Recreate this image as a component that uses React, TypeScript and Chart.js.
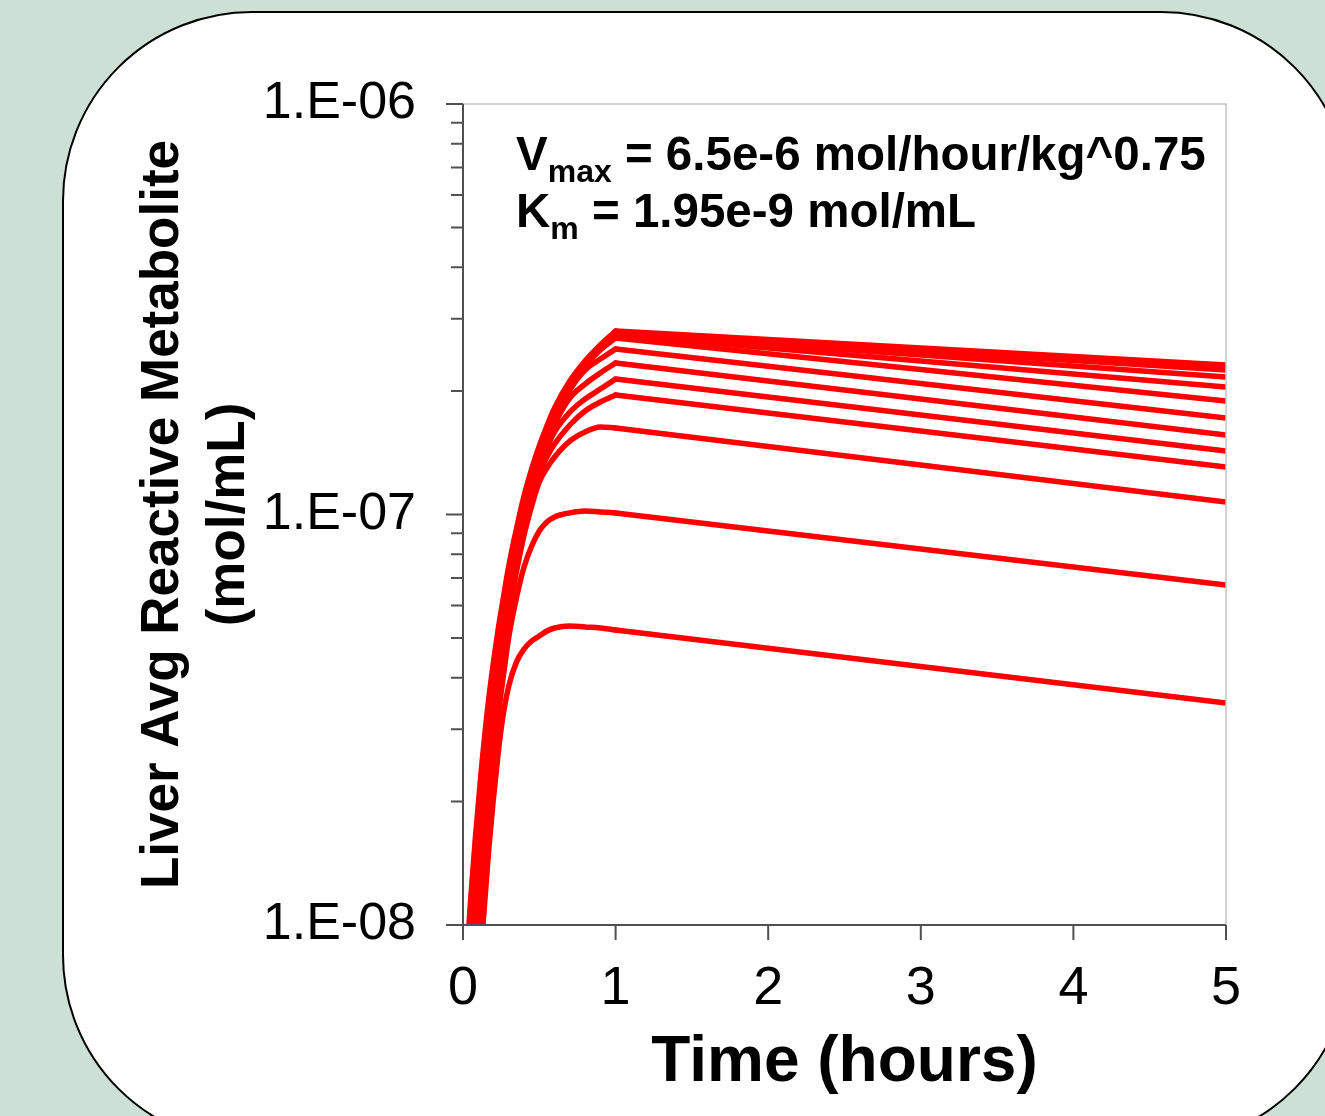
import { useEffect, useRef } from 'react';
import { Chart, registerables } from 'chart.js';

Chart.register(...registerables);

const FONT = '"Liberation Sans", Arial, Helvetica, sans-serif';
const RED = '#ff0000';

// Sampling times (hours) during the 1 h exposure, and the end of the run
const riseTimes = [0.03, 0.05, 0.08, 0.12, 0.17, 0.23, 0.26, 0.3, 0.35, 0.4, 0.45, 0.5, 0.55, 0.6, 0.7, 0.8, 0.9, 1.0];
const endTime = 5;

// Liver average reactive metabolite (mol/mL) at riseTimes, one array per exposure level
const run01 = [8.94e-9, 1.151e-8, 1.611e-8, 2.385e-8, 3.593e-8, 5.23e-8, 6.12e-8, 7.49e-8, 9.22e-8, 1.11e-7, 1.291e-7, 1.469e-7, 1.643e-7, 1.817e-7, 2.114e-7, 2.365e-7, 2.588e-7, 2.799e-7];
const run02 = [8.22e-9, 1.064e-8, 1.506e-8, 2.256e-8, 3.435e-8, 5.03e-8, 5.92e-8, 7.28e-8, 9.01e-8, 1.085e-7, 1.262e-7, 1.444e-7, 1.624e-7, 1.797e-7, 2.091e-7, 2.352e-7, 2.574e-7, 2.783e-7];
const run03 = [7.55e-9, 9.83e-9, 1.408e-8, 2.121e-8, 3.266e-8, 4.864e-8, 5.72e-8, 7.083e-8, 8.81e-8, 1.061e-7, 1.241e-7, 1.42e-7, 1.597e-7, 1.776e-7, 2.079e-7, 2.339e-7, 2.559e-7, 2.768e-7];
const run04 = [6.95e-9, 9.14e-9, 1.317e-8, 1.994e-8, 3.122e-8, 4.677e-8, 5.53e-8, 6.848e-8, 8.57e-8, 1.037e-7, 1.22e-7, 1.396e-7, 1.579e-7, 1.757e-7, 2.056e-7, 2.313e-7, 2.545e-7, 2.737e-7];
const run05 = [6.38e-9, 8.45e-9, 1.231e-8, 1.885e-8, 2.968e-8, 4.522e-8, 5.35e-8, 6.658e-8, 8.38e-8, 1.014e-7, 1.193e-7, 1.373e-7, 1.553e-7, 1.738e-7, 2.044e-7, 2.3e-7, 2.516e-7, 2.692e-7];
const run06 = [5.84e-9, 7.81e-9, 1.151e-8, 1.782e-8, 2.838e-8, 4.347e-8, 5.17e-8, 6.474e-8, 8.15e-8, 9.915e-8, 1.173e-7, 1.358e-7, 1.536e-7, 1.709e-7, 2.01e-7, 2.249e-7, 2.392e-7, 2.53e-7];
const run07 = [5.37e-9, 7.22e-9, 1.07e-8, 1.675e-8, 2.714e-8, 4.203e-8, 5.0e-8, 6.295e-8, 7.97e-8, 9.696e-8, 1.154e-7, 1.335e-7, 1.502e-7, 1.662e-7, 1.922e-7, 2.079e-7, 2.212e-7, 2.339e-7];
const run08 = [4.93e-9, 6.68e-9, 1.0e-8, 1.584e-8, 2.581e-8, 4.043e-8, 4.84e-8, 6.087e-8, 7.7e-8, 9.48e-8, 1.128e-7, 1.305e-7, 1.452e-7, 1.589e-7, 1.776e-7, 1.911e-7, 2.021e-7, 2.138e-7];
const run09 = [4.53e-9, 6.21e-9, 9.35e-9, 1.49e-8, 2.467e-8, 3.909e-8, 4.68e-8, 5.919e-8, 7.58e-8, 9.322e-8, 1.097e-7, 1.262e-7, 1.381e-7, 1.485e-7, 1.652e-7, 1.787e-7, 1.88e-7, 1.955e-7];
const run10 = [4.01e-9, 5.52e-9, 8.45e-9, 1.362e-8, 2.293e-8, 3.695e-8, 4.45e-8, 5.658e-8, 7.24e-8, 8.913e-8, 1.049e-7, 1.2e-7, 1.298e-7, 1.381e-7, 1.51e-7, 1.589e-7, 1.634e-7, 1.624e-7];
const run11 = [3.52e-9, 4.91e-9, 7.64e-9, 1.259e-8, 2.016e-8, 3.229e-8, 3.93e-8, 5.03e-8, 6.26e-8, 7.448e-8, 8.38e-8, 9.117e-8, 9.587e-8, 9.86e-8, 1.009e-7, 1.02e-7, 1.014e-7, 1.009e-7];
const run12 = [2.53e-9, 3.54e-9, 5.4e-9, 8.84e-9, 1.549e-8, 2.61e-8, 3.19e-8, 3.822e-8, 4.37e-8, 4.703e-8, 4.918e-8, 5.058e-8, 5.202e-8, 5.29e-8, 5.35e-8, 5.32e-8, 5.29e-8, 5.231e-8];

// Values at the end of the run (5 h), same order as the runs
const valuesAt5h = [2.313e-7, 2.249e-7, 2.163e-7, 2.044e-7, 1.89e-7, 1.718e-7, 1.562e-7, 1.428e-7, 1.305e-7, 1.073e-7, 6.733e-8, 3.474e-8];

const runs = [run01, run02, run03, run04, run05, run06, run07, run08, run09, run10, run11, run12];

// Axis ticks and labels
const xTicks = [0, 1, 2, 3, 4, 5];
const yMajorTicks = [1e-8, 1e-7, 1e-6];
const yTickLabels = ['1.E-08', '1.E-07', '1.E-06'];
const yMinorMultipliers = [2, 3, 4, 5, 6, 7, 8, 9];

const xTitle = 'Time (hours)';
const yTitle = ['Liver Avg Reactive Metabolite', '(mol/mL)'];

// Parameter note drawn inside the plot
const noteLines = [
  { main: 'V', sub: 'max', rest: ' = 6.5e-6 mol/hour/kg^0.75' },
  { main: 'K', sub: 'm', rest: ' = 1.95e-9 mol/mL' },
];

const axisFramePlugin = {
  id: 'axisFrame',
  afterDatasetsDraw(chart: any) {
    const { ctx, chartArea: a, scales } = chart;
    const x = scales.x;
    const y = scales.y;
    ctx.save();
    // light frame on the top and right of the plot area
    ctx.strokeStyle = '#c4c4c4';
    ctx.lineWidth = 1.5;
    ctx.beginPath();
    ctx.moveTo(a.left, a.top);
    ctx.lineTo(a.right, a.top);
    ctx.lineTo(a.right, a.bottom);
    ctx.stroke();

    ctx.strokeStyle = '#505050';
    ctx.lineWidth = 2;
    ctx.beginPath();
    // y axis line, extended down to the x tick length
    ctx.moveTo(a.left, a.top);
    ctx.lineTo(a.left, a.bottom + 15);
    // x axis line
    ctx.moveTo(a.left - 17, a.bottom);
    ctx.lineTo(a.right, a.bottom);
    // y major ticks
    yMajorTicks.forEach((v) => {
      const py = y.getPixelForValue(v);
      ctx.moveTo(a.left - 17, py);
      ctx.lineTo(a.left, py);
    });
    // y minor ticks
    yMajorTicks.slice(0, -1).forEach((base) => {
      yMinorMultipliers.forEach((m) => {
        const py = y.getPixelForValue(base * m);
        ctx.moveTo(a.left - 12, py);
        ctx.lineTo(a.left, py);
      });
    });
    // x ticks
    xTicks.forEach((v) => {
      const px = x.getPixelForValue(v);
      ctx.moveTo(px, a.bottom);
      ctx.lineTo(px, a.bottom + 15);
    });
    ctx.stroke();
    ctx.restore();
  },
  afterDraw(chart: any) {
    const { ctx, chartArea: a } = chart;
    ctx.save();
    ctx.fillStyle = '#000';
    ctx.textBaseline = 'alphabetic';
    ctx.textAlign = 'left';
    const mainFont = `bold 47.5px ${FONT}`;
    const subFont = `bold 32px ${FONT}`;
    noteLines.forEach((line, i) => {
      const baseY = a.top + 66 + i * 57;
      let px = a.left + 53;
      ctx.font = mainFont;
      ctx.fillText(line.main, px, baseY);
      px += ctx.measureText(line.main).width;
      ctx.font = subFont;
      ctx.fillText(line.sub, px, baseY + 12);
      px += ctx.measureText(line.sub).width;
      ctx.font = mainFont;
      ctx.fillText(line.rest, px, baseY);
    });
    ctx.restore();
  },
};

export default function App() {
  const canvasRef = useRef<HTMLCanvasElement | null>(null);

  useEffect(() => {
    const canvas = canvasRef.current;
    if (!canvas) return;

    const lineStyle = {
      borderColor: RED,
      backgroundColor: RED,
      borderWidth: 5.5,
      pointRadius: 0,
      pointHoverRadius: 0,
      fill: false,
      clip: 0,
      borderCapStyle: 'round' as const,
      borderJoinStyle: 'round' as const,
    };

    const datasets: any[] = [];
    runs.forEach((run, i) => {
      datasets.push({
        ...lineStyle,
        label: `run ${i + 1} exposure`,
        data: riseTimes.map((t, j) => ({ x: t, y: run[j] })),
        cubicInterpolationMode: 'monotone',
      });
      datasets.push({
        ...lineStyle,
        label: `run ${i + 1} clearance`,
        data: [
          { x: riseTimes[riseTimes.length - 1], y: run[run.length - 1] },
          { x: endTime, y: valuesAt5h[i] },
        ],
        tension: 0,
      });
    });

    const chart = new Chart(canvas, {
      type: 'line',
      data: { datasets },
      options: {
        animation: false,
        responsive: false,
        maintainAspectRatio: false,
        devicePixelRatio: 1,
        events: [],
        layout: { padding: { top: 104, right: 99, bottom: 0, left: 0 } },
        plugins: {
          legend: { display: false },
          tooltip: { enabled: false },
        },
        scales: {
          x: {
            type: 'linear',
            min: 0,
            max: 5,
            afterBuildTicks: (axis: any) => {
              axis.ticks = xTicks.map((v) => ({ value: v }));
            },
            afterFit: (axis: any) => {
              axis.height = 191;
            },
            grid: { display: false, drawTicks: false },
            border: { display: false },
            ticks: {
              autoSkip: false,
              maxRotation: 0,
              padding: 32,
              color: '#000',
              font: { family: FONT, size: 54 },
              callback: (v: any) => String(v),
            },
            title: {
              display: true,
              text: xTitle,
              color: '#000',
              font: { family: FONT, size: 64, weight: 'bold' },
              padding: { top: 0, bottom: 14 },
            },
          },
          y: {
            type: 'logarithmic',
            min: 1e-8,
            max: 1e-6,
            afterBuildTicks: (axis: any) => {
              axis.ticks = yMajorTicks.map((v) => ({ value: v }));
            },
            afterFit: (axis: any) => {
              axis.width = 463;
            },
            grid: { display: false, drawTicks: false },
            border: { display: false },
            ticks: {
              autoSkip: false,
              padding: 47,
              color: '#000',
              font: { family: FONT, size: 52 },
              callback: (_v: any, i: number) => yTickLabels[i],
            },
            title: {
              display: true,
              text: yTitle,
              color: '#000',
              font: { family: FONT, size: 53, weight: 'bold', lineHeight: 66 / 53 },
              padding: { top: 130, bottom: 0 },
            },
          },
        },
      } as any,
      plugins: [axisFramePlugin],
    });

    return () => chart.destroy();
  }, []);

  return (
    <div
      style={{
        position: 'fixed',
        left: 0,
        top: 0,
        width: 1325,
        height: 1116,
        background: '#cce0d5',
        overflow: 'hidden',
      }}
    >
      <div
        style={{
          position: 'absolute',
          left: 62,
          top: 11,
          width: 1289,
          height: 1134,
          boxSizing: 'border-box',
          border: '2px solid #000',
          borderRadius: 190,
          background: '#ffffff',
        }}
      />
      <canvas
        ref={canvasRef}
        width={1325}
        height={1116}
        style={{ position: 'absolute', left: 0, top: 0, width: 1325, height: 1116 }}
      />
    </div>
  );
}
